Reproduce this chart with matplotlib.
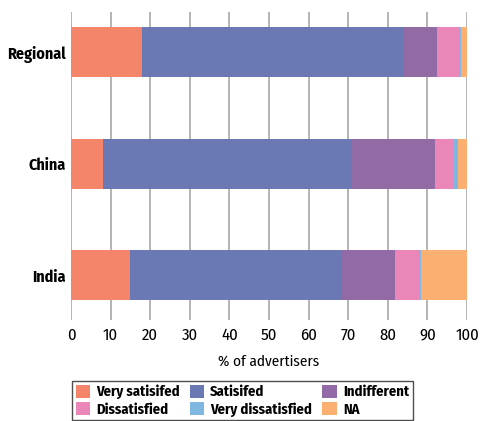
import numpy as np
import matplotlib
matplotlib.use('Agg')
import matplotlib.pyplot as plt
from matplotlib.patches import Patch

plt.rcParams['font.family'] = ['Fira Sans Condensed', 'DejaVu Sans']

# Survey shares per market (%), bottom row first
markets = ['India', 'China', 'Regional']
categories = ['Very satisifed', 'Satisifed', 'Indifferent',
              'Dissatisfied', 'Very dissatisfied', 'NA']
very_satisfied = [14.8, 8.0, 18.0]
satisfied = [53.5, 62.8, 66.0]
indifferent = [13.4, 21.0, 8.3]
dissatisfied = [6.2, 4.8, 5.6]
very_dissatisfied = [0.4, 1.0, 0.5]
not_answered = [11.7, 2.4, 1.6]
colors = ['#F4856A', '#6A79B3', '#926AA5', '#EB86B8', '#7FB7E0', '#FBB072']

series = [very_satisfied, satisfied, indifferent,
          dissatisfied, very_dissatisfied, not_answered]

fig = plt.figure(figsize=(4.8, 4.21), dpi=100)
ax = fig.add_axes([0.148, 0.240, 0.825, 0.7315])

y = np.arange(len(markets))
left = np.zeros(len(markets))
for vals, c in zip(series, colors):
    ax.barh(y, vals, left=left, height=0.45, color=c, zorder=3)
    left += np.array(vals)

ax.set_xlim(0, 100)
ax.set_ylim(-0.40, 2.36)
ax.set_xticks(range(0, 101, 10))
ax.set_yticks(y)
ax.set_yticklabels(markets, fontweight='bold', fontsize=11.5)
ax.tick_params(axis='y', length=0, pad=4)
ax.tick_params(axis='x', length=0, pad=5, labelsize=12)
ax.grid(axis='x', color='#a8a8a8', linewidth=1.2, zorder=0)
for s in ax.spines.values():
    s.set_visible(False)
ax.set_xlabel('% of advertisers', fontsize=11, labelpad=8)

# legend fills column-wise, so reorder handles to read across rows
handles = [Patch(facecolor=c, edgecolor='none') for c in colors]
order = [0, 3, 1, 4, 2, 5]
fig.legend([handles[i] for i in order], [categories[i] for i in order],
           ncol=3, loc='upper left', bbox_to_anchor=(72 / 480, 1 - 381 / 421),
           frameon=True, fancybox=False, edgecolor='#222222',
           prop={'weight': 'bold', 'size': 10.5},
           handlelength=1.0, handleheight=1.0, handletextpad=0.4,
           columnspacing=0.7, borderpad=0.25, labelspacing=0.2,
           borderaxespad=0)

fig.savefig('out.png', dpi=100)
